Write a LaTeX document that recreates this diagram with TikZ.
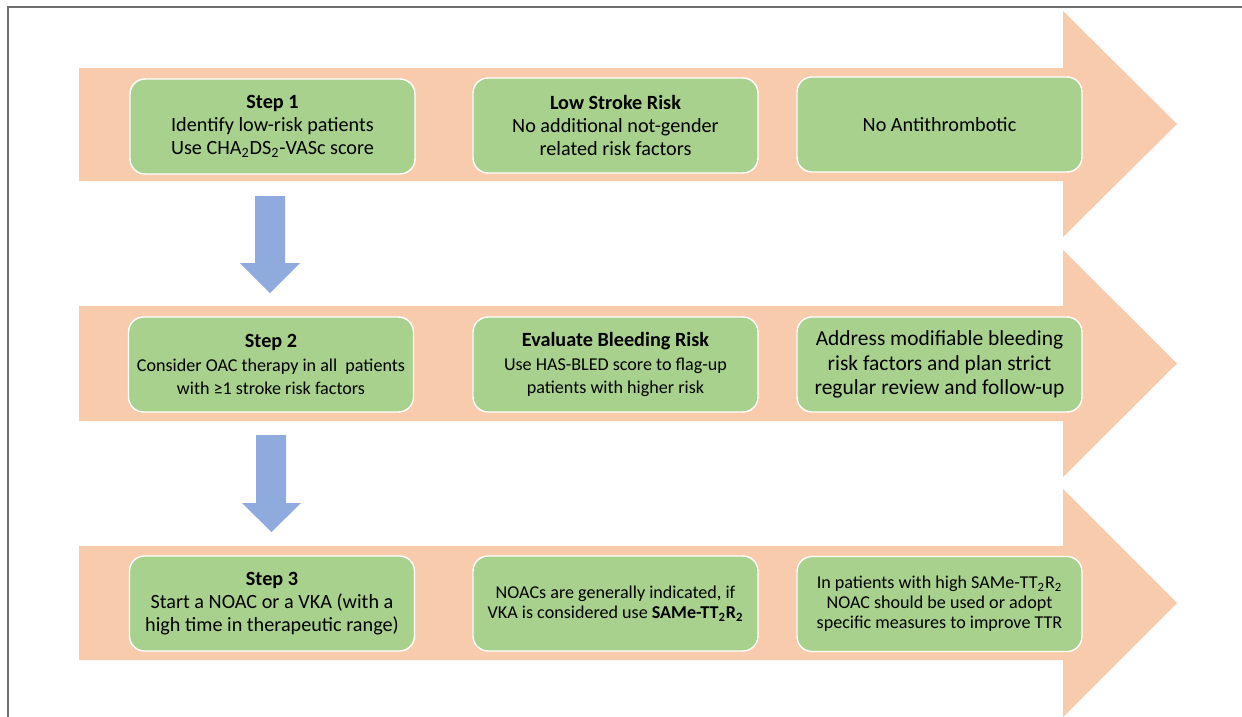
\documentclass[tikz,border=0pt]{standalone}
\usepackage{fontspec}
\setmainfont{Carlito}
\definecolor{bandpeach}{HTML}{F8CBAD}
\definecolor{boxgreen}{HTML}{A9D18E}
\definecolor{downblue}{HTML}{8FAADC}
\definecolor{framegray}{HTML}{6E6E6E}
\newcommand{\smalltxt}{\fontsize{10.3}{11.4}\selectfont}
\begin{document}
\begin{tikzpicture}[
    x=0.02cm, y=-0.02cm,
    font=\fontsize{11.5}{13.2}\selectfont,
    % Flechas grandes de fondo y cajas de cada paso
    band/.style={fill=bandpeach, draw=none},
    stepbox/.style={draw=white, thick, fill=boxgreen, rounded corners=0.3cm, minimum width=5.7cm, minimum height=1.9cm, align=center, inner sep=2pt},
    small/.style={font=\smalltxt},
    large/.style={font=\fontsize{12.2}{13.8}\selectfont},
    down/.style={fill=downblue, draw=none}
]
\useasboundingbox (0,0) rectangle (1242,717);

% --- Marco ---
\draw[framegray, line width=0.8pt] (8,717) -- (8,7) -- (1242,7);

% --- Flechas de fondo ---
\fill[band] (79,68) -- (1063,68) -- (1063,11) -- (1177,124) -- (1063,237) -- (1063,181) -- (79,181) -- cycle;
\fill[band] (79,306) -- (1063,306) -- (1063,250) -- (1177,363.5) -- (1063,477) -- (1063,421) -- (79,421) -- cycle;
\fill[band] (79,546) -- (1063,546) -- (1063,489) -- (1177,603) -- (1063,717) -- (1063,660) -- (79,660) -- cycle;

% --- Paso 1 ---
\node[stepbox] (s1) at (272.5,126.5) {\textbf{Step 1}\\Identify low-risk patients\\Use CHA\textsubscript{2}DS\textsubscript{2}-VASc score};
\node[stepbox] (risk) at (615.5,125.5) {\textbf{Low Stroke Risk}\\No additional not-gender\\related risk factors};
\node[stepbox] (noat) at (939.5,124.5) {No Antithrombotic};

% --- Paso 2 ---
\node[stepbox] (s2) at (271,364.5) {\textbf{Step 2}\\{\smalltxt Consider OAC therapy in all\ \ patients}\\{\smalltxt with ≥1 stroke risk factors}};
\node[stepbox] (bleed) at (615.5,364.5) {\textbf{Evaluate Bleeding Risk}\\{\smalltxt Use HAS-BLED score to flag-up}\\{\smalltxt patients with higher risk}};
\node[stepbox, large] (review) at (939.5,364.5) {Address modifiable bleeding\\risk factors and plan strict\\regular review and follow-up};

% --- Paso 3 ---
\node[stepbox] (s3) at (272,603.5) {\textbf{Step 3}\\Start a NOAC or a VKA (with a\\high time in therapeutic range)};
\node[stepbox, small] (noac) at (615.5,603.5) {NOACs are generally indicated, if\\VKA is considered use \textbf{SAMe-TT\textsubscript{2}R\textsubscript{2}}};
\node[stepbox, small] (ttr) at (939.5,604) {In patients with high SAMe-TT\textsubscript{2}R\textsubscript{2}\\NOAC should be used or adopt\\specific measures to improve TTR};

% --- Flechas entre pasos ---
\fill[down] (255,196) -- (285,196) -- (285,263) -- (300,263) -- (270,293) -- (240,263) -- (255,263) -- cycle;
\fill[down] (256,435) -- (286,435) -- (286,503) -- (301,503) -- (271.5,532) -- (242,503) -- (256,503) -- cycle;

\end{tikzpicture}
\end{document}
